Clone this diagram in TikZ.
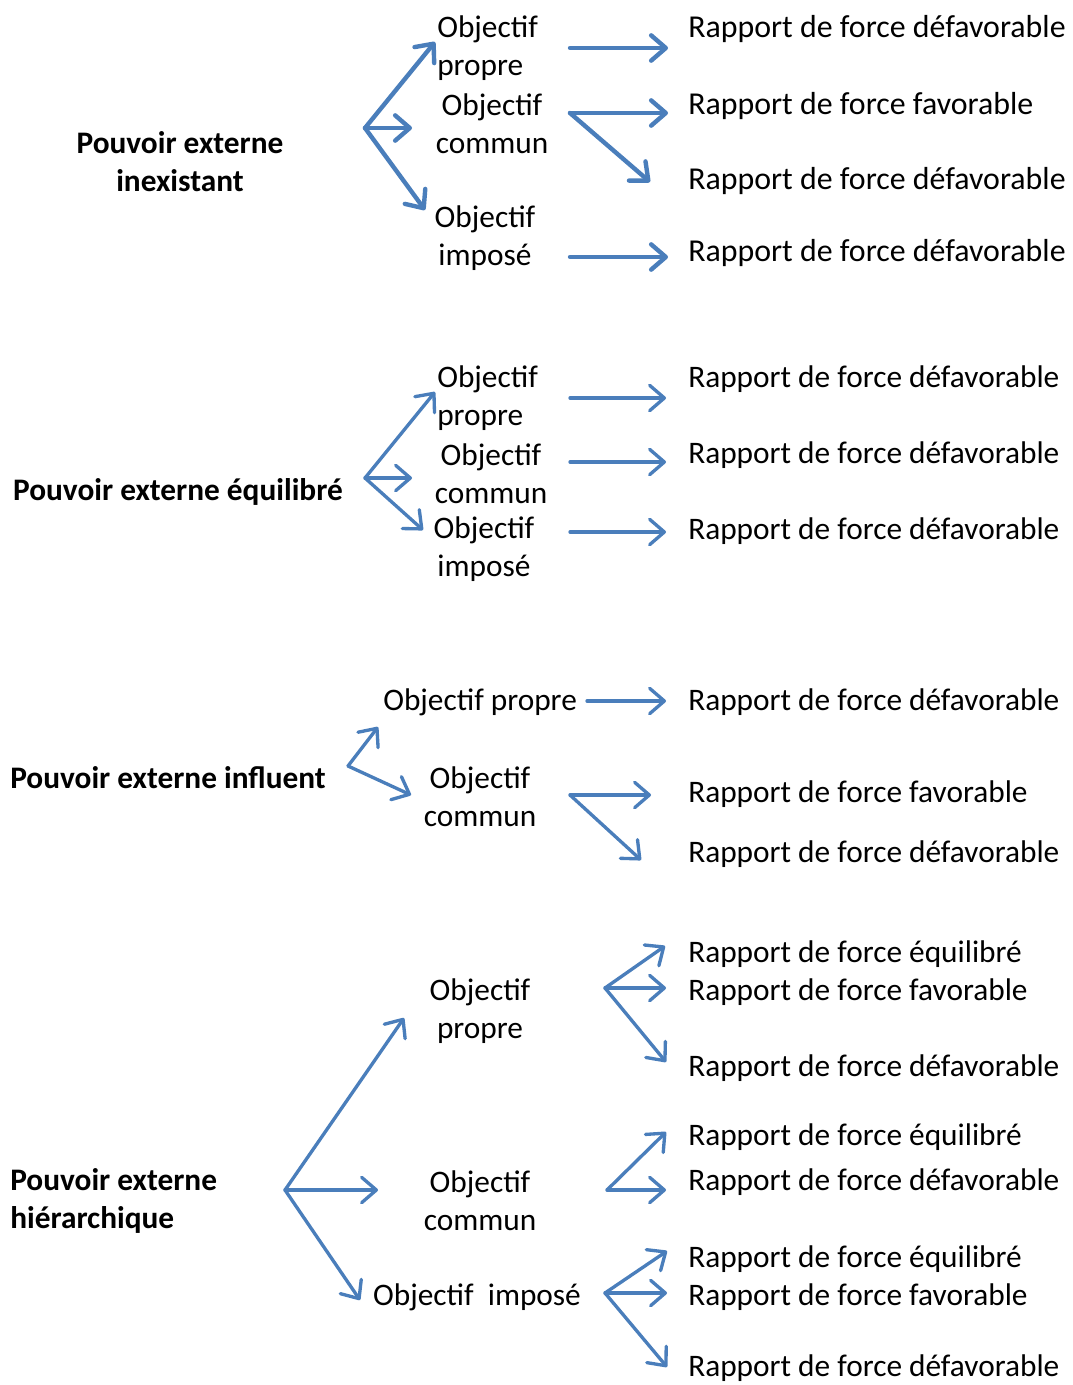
\documentclass[tikz,border=0pt]{standalone}
\usepackage{fontspec}
\setmainfont{Carlito}
\usetikzlibrary{arrows.meta}
\definecolor{arrowblue}{HTML}{4A7EBB}

\begin{document}
\begin{tikzpicture}[x=0.75pt,y=-0.75pt,
  txt/.style={inner sep=0pt,yshift=-1.5pt,font=\fontsize{23.5}{28.5}\selectfont},
  pouvoir/.style={inner sep=0pt,yshift=-1.5pt,font=\fontsize{23.5}{28.5}\selectfont\bfseries},
  arr/.style={arrowblue,line width=2.5pt,line cap=round,
    -{Straight Barb[length=11pt,width=19pt,line cap=round,line join=round]}},
  arrthick/.style={arr,line width=3.3pt}]
\useasboundingbox (0,0) rectangle (1073,1385);

% Pouvoir externe inexistant
\node[pouvoir,align=center] (pe1) at (180,160) {Pouvoir externe\\inexistant};
\node[txt,align=left,anchor=west] (op1) at (437,46) {Objectif\\propre};
\node[txt,align=center] (oc1) at (492,122) {Objectif\\commun};
\node[txt,align=center] (oi1) at (485,236) {Objectif\\imposé};
\node[txt,anchor=west,font=\fontsize{23.9}{28.5}\selectfont] (r1a) at (688,27) {Rapport de force défavorable};
\node[txt,anchor=west,font=\fontsize{23.9}{28.5}\selectfont] (r1b) at (688,104) {Rapport de force favorable};
\node[txt,anchor=west,font=\fontsize{23.9}{28.5}\selectfont] (r1c) at (688,179) {Rapport de force défavorable};
\node[txt,anchor=west,font=\fontsize{23.9}{28.5}\selectfont] (r1d) at (688,251) {Rapport de force défavorable};
\path (365,128) coordinate (b1) (435,42) coordinate (b1p) (412,128) coordinate (b1c) (425,210) coordinate (b1i);
\path (570,48) coordinate (s1p) (668,48) coordinate (s1pa);
\path (570,113) coordinate (s1c) (668,113) coordinate (s1ca) (650,182) coordinate (s1cb);
\path (570,257) coordinate (s1i) (668,257) coordinate (s1ia);
\draw[arrthick] (b1) -- (b1p); \draw[arrthick] (b1) -- (b1c); \draw[arrthick] (b1) -- (b1i);
\draw[arrthick] (s1p) -- (s1pa);
\draw[arrthick] (s1c) -- (s1ca); \draw[arrthick] (s1c) -- (s1cb);
\draw[arrthick] (s1i) -- (s1ia);

% Pouvoir externe equilibre
\node[pouvoir] (pe2) at (178,490) {Pouvoir externe équilibré};
\node[txt,align=left,anchor=west] (op2) at (437,396) {Objectif\\propre};
\node[txt,align=center] (oc2) at (491,472) {Objectif\\commun};
\node[txt,align=center] (oi2) at (484,547) {Objectif\\imposé};
\node[txt,anchor=west] (r2a) at (688,377) {Rapport de force défavorable};
\node[txt,anchor=west] (r2b) at (688,453) {Rapport de force défavorable};
\node[txt,anchor=west] (r2c) at (688,529) {Rapport de force défavorable};
\path (365,478) coordinate (b2) (435,392) coordinate (b2p) (412,478) coordinate (b2c) (423,530) coordinate (b2i);
\path (570,398) coordinate (s2p) (666,398) coordinate (s2pa);
\path (570,462) coordinate (s2c) (666,462) coordinate (s2ca);
\path (570,532) coordinate (s2i) (666,532) coordinate (s2ia);
\draw[arr] (b2) -- (b2p); \draw[arr] (b2) -- (b2c); \draw[arr] (b2) -- (b2i);
\draw[arr] (s2p) -- (s2pa); \draw[arr] (s2c) -- (s2ca); \draw[arr] (s2i) -- (s2ia);

% Pouvoir externe influent
\node[pouvoir,anchor=west] (pe3) at (10,776) {Pouvoir externe influent};
\node[txt,anchor=west] (op3) at (383,700) {Objectif propre};
\node[txt,align=center] (oc3) at (480,795) {Objectif\\commun};
\node[txt,anchor=west] (r3a) at (688,700) {Rapport de force défavorable};
\node[txt,anchor=west] (r3b) at (688,792) {Rapport de force favorable};
\node[txt,anchor=west] (r3c) at (688,852) {Rapport de force défavorable};
\path (348,766) coordinate (b3) (378,727) coordinate (b3p) (411,795) coordinate (b3c);
\path (587,701) coordinate (s3p) (666,701) coordinate (s3pa);
\path (570,795) coordinate (s3c) (651,795) coordinate (s3ca) (641,860) coordinate (s3cb);
\draw[arr] (b3) -- (b3p); \draw[arr] (b3) -- (b3c);
\draw[arr] (s3p) -- (s3pa);
\draw[arr] (s3c) -- (s3ca); \draw[arr] (s3c) -- (s3cb);

% Pouvoir externe hierarchique
\node[pouvoir,align=left,anchor=west] (pe4) at (10,1199) {Pouvoir externe\\hiérarchique};
\node[txt,align=center] (op4) at (480,1009) {Objectif\\propre};
\node[txt,align=center] (oc4) at (480,1199) {Objectif\\commun};
\node[txt] (oi4) at (477,1295) {Objectif~~imposé};
\node[txt,anchor=west] (r4a) at (688,952) {Rapport de force équilibré};
\node[txt,anchor=west] (r4b) at (688,990) {Rapport de force favorable};
\node[txt,anchor=west] (r4c) at (688,1066) {Rapport de force défavorable};
\node[txt,anchor=west] (r4d) at (688,1135) {Rapport de force équilibré};
\node[txt,anchor=west] (r4e) at (688,1180) {Rapport de force défavorable};
\node[txt,anchor=west] (r4f) at (688,1257) {Rapport de force équilibré};
\node[txt,anchor=west] (r4g) at (688,1295) {Rapport de force favorable};
\node[txt,anchor=west] (r4h) at (688,1366) {Rapport de force défavorable};
\path (285,1190) coordinate (b4) (404,1018) coordinate (b4p) (378,1190) coordinate (b4c) (360,1300) coordinate (b4i);
\path (605,988) coordinate (s4p) (665,946) coordinate (s4pa) (666,988) coordinate (s4pb) (666,1062) coordinate (s4pc);
\path (607,1190) coordinate (s4c) (666,1132) coordinate (s4ca) (666,1190) coordinate (s4cb);
\path (605,1293) coordinate (s4i) (667,1251) coordinate (s4ia) (667,1293) coordinate (s4ib) (667,1367) coordinate (s4ic);
\draw[arr] (b4) -- (b4p); \draw[arr] (b4) -- (b4c); \draw[arr] (b4) -- (b4i);
\draw[arr] (s4p) -- (s4pa); \draw[arr] (s4p) -- (s4pb); \draw[arr] (s4p) -- (s4pc);
\draw[arr] (s4c) -- (s4ca); \draw[arr] (s4c) -- (s4cb);
\draw[arr] (s4i) -- (s4ia); \draw[arr] (s4i) -- (s4ib); \draw[arr] (s4i) -- (s4ic);
\end{tikzpicture}
\end{document}
